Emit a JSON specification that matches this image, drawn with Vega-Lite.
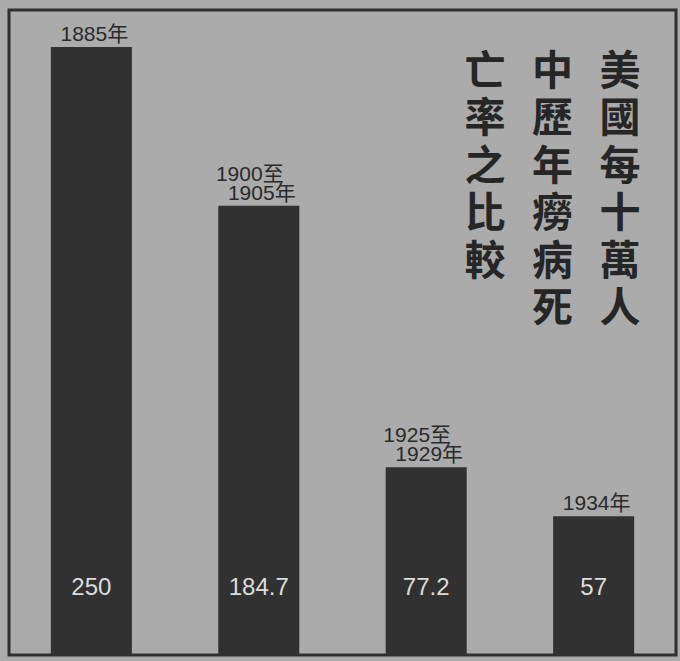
{
  "$schema": "https://vega.github.io/schema/vega-lite/v6.json",
  "width": 667,
  "height": 645,
  "padding": {"left": 9, "top": 10, "right": 4, "bottom": 6},
  "autosize": {"type": "none"},
  "background": "#ababab",
  "config": {"view": {"stroke": "#2f2f2f", "strokeWidth": 3}},
  "layer": [
    {
      "data": {
        "values": [
          {"period": "1885", "upper": "", "lower": "1885年", "value": 250, "display": "250"},
          {"period": "1900-1905", "upper": "1900至", "lower": "1905年", "value": 184.7, "display": "184.7"},
          {"period": "1925-1929", "upper": "1925至", "lower": "1929年", "value": 77.2, "display": "77.2"},
          {"period": "1934", "upper": "", "lower": "1934年", "value": 57, "display": "57"}
        ]
      },
      "encoding": {
        "x": {"field": "period", "type": "nominal", "sort": null, "axis": null,
              "scale": {"paddingInner": 0.516, "paddingOuter": 0.25}}
      },
      "layer": [
        {
          "mark": {"type": "bar", "color": "#313131"},
          "encoding": {
            "y": {"field": "value", "type": "quantitative", "axis": null,
                  "scale": {"domain": [0, 265.2], "nice": false}}
          }
        },
        {
          "mark": {"type": "text", "baseline": "alphabetic", "align": "center", "dy": -6, "dx": 3,
                   "fontSize": 21, "color": "#2a2a2a",
                   "font": "Liberation Sans, 'Noto Sans CJK TC'"},
          "encoding": {
            "y": {"field": "value", "type": "quantitative", "axis": null},
            "text": {"field": "lower"}
          }
        },
        {
          "mark": {"type": "text", "baseline": "alphabetic", "align": "center", "dy": -25, "dx": -9,
                   "fontSize": 21, "color": "#2a2a2a",
                   "font": "Liberation Sans, 'Noto Sans CJK TC'"},
          "encoding": {
            "y": {"field": "value", "type": "quantitative", "axis": null},
            "text": {"field": "upper"}
          }
        },
        {
          "mark": {"type": "text", "baseline": "middle", "align": "center", "dy": -67,
                   "fontSize": 24, "color": "#dcdcdc", "font": "Liberation Sans"},
          "encoding": {
            "y": {"datum": 0, "type": "quantitative", "axis": null},
            "text": {"field": "display"}
          }
        }
      ]
    },
    {
      "data": {
        "values": [
          {"col": 1, "row": 1, "ch": "美"}, {"col": 1, "row": 2, "ch": "國"},
          {"col": 1, "row": 3, "ch": "每"}, {"col": 1, "row": 4, "ch": "十"},
          {"col": 1, "row": 5, "ch": "萬"}, {"col": 1, "row": 6, "ch": "人"},
          {"col": 2, "row": 1, "ch": "中"}, {"col": 2, "row": 2, "ch": "歷"},
          {"col": 2, "row": 3, "ch": "年"}, {"col": 2, "row": 4, "ch": "癆"},
          {"col": 2, "row": 5, "ch": "病"}, {"col": 2, "row": 6, "ch": "死"},
          {"col": 3, "row": 1, "ch": "亡"}, {"col": 3, "row": 2, "ch": "率"},
          {"col": 3, "row": 3, "ch": "之"}, {"col": 3, "row": 4, "ch": "比"},
          {"col": 3, "row": 5, "ch": "較"}
        ]
      },
      "mark": {"type": "text", "baseline": "middle", "align": "center",
               "fontSize": 41, "fontWeight": "bold", "color": "#262626",
               "font": "Noto Sans CJK TC"},
      "encoding": {
        "x": {"field": "col", "type": "quantitative", "axis": null,
              "scale": {"domain": [0.17, 10.05], "reverse": true, "nice": false, "zero": false}},
        "y": {"field": "row", "type": "quantitative", "axis": null,
              "scale": {"domain": [-0.33, 13.28], "reverse": true, "nice": false, "zero": false}},
        "text": {"field": "ch"}
      }
    }
  ],
  "resolve": {"scale": {"x": "independent", "y": "independent"}}
}
